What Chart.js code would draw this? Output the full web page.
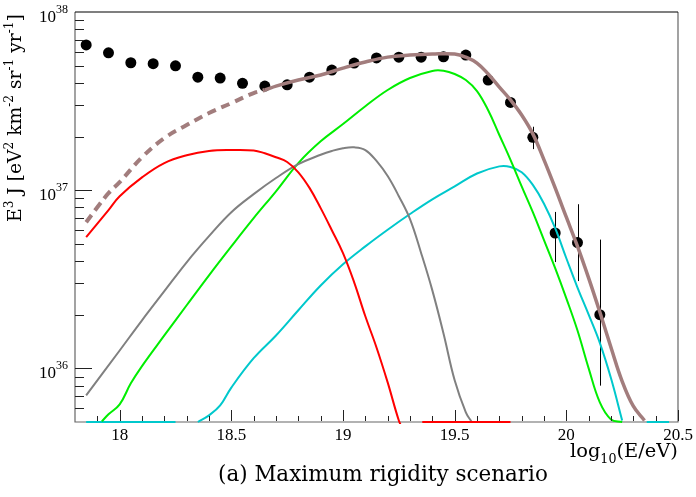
<!DOCTYPE html>
<html>
<head>
<meta charset="utf-8">
<script src="https://cdn.jsdelivr.net/npm/chart.js@4.4.1/dist/chart.umd.min.js"></script>
<style>
  body { margin: 0; background: #fff; }
  canvas { display: block; }
</style>
</head>
<body>
<canvas id="chart" width="696" height="497"></canvas>
<script>
// measured points (log10 E, E^3 J)
const dataE = [17.85, 17.95, 18.05, 18.15, 18.25, 18.35, 18.45, 18.55, 18.65, 18.75, 18.85, 18.95,
               19.05, 19.15, 19.25, 19.35, 19.45, 19.55, 19.65, 19.75, 19.85, 19.95, 20.05, 20.15];
const dataFlux = [6.53e37, 5.9e37, 5.19e37, 5.13e37, 4.99e37, 4.31e37, 4.26e37, 3.98e37, 3.84e37, 3.9e37, 4.31e37, 4.72e37,
                  5.17e37, 5.52e37, 5.58e37, 5.58e37, 5.6e37, 5.73e37, 4.15e37, 3.11e37, 1.98e37, 5.75e36, 5.08e36, 2.0e36];
const errLow  = [null, null, null, null, null, null, null, null, null, null, null, null,
                 null, null, null, null, null, null, null, null, 1.70e37, 3.95e36, 3.09e36, 8.0e35];
const errHigh = [null, null, null, null, null, null, null, null, null, null, null, null,
                 null, null, null, null, null, null, null, null, 2.27e37, 7.55e36, 8.34e36, 5.28e36];

const yFloor = 5e35;

// model components (null = break in line)
const redE = [17.85, 17.95, 18.0, 18.1, 18.2, 18.3, 18.4, 18.5, 18.6, 18.65, 18.7, 18.75, 18.8, 18.85, 18.9, 18.95,
              19.0, 19.05, 19.1, 19.15, 19.2, 19.25, 19.27, 19.3, 19.355, 19.75];
const redFlux = [5.45e36, 7.73e36, 9.25e36, 1.18e37, 1.42e37, 1.57e37, 1.66e37, 1.68e37, 1.67e37, 1.61e37, 1.53e37, 1.44e37,
                 1.26e37, 1.03e37, 7.93e36, 5.96e36, 4.43e36, 3.04e36, 1.96e36, 1.31e36, 8.34e35, 5.1e35, 4.5e35, null, yFloor, yFloor];

const grayE = [17.85, 18.0, 18.1, 18.2, 18.3, 18.4, 18.5, 18.6, 18.7, 18.8, 18.9, 18.95, 19.0, 19.05, 19.1, 19.15, 19.2,
               19.25, 19.3, 19.35, 19.4, 19.45, 19.5, 19.55, 19.575];
const grayFlux = [7.05e35, 1.26e36, 1.86e36, 2.71e36, 3.94e36, 5.52e36, 7.52e36, 9.5e36, 1.17e37, 1.40e37, 1.58e37, 1.66e37,
                  1.72e37, 1.74e37, 1.68e37, 1.46e37, 1.20e37, 9.25e36, 6.88e36, 4.43e36, 2.74e36, 1.57e36, 8.57e35, 5.66e35, 5.03e35];

const greenE = [17.92, 17.95, 18.0, 18.05, 18.1, 18.2, 18.3, 18.4, 18.5, 18.6, 18.7, 18.8, 18.9, 19.0, 19.1, 19.2, 19.3, 19.4, 19.45,
                19.5, 19.55, 19.6, 19.65, 19.7, 19.75, 19.8, 19.85, 19.9, 19.95, 20.0, 20.05, 20.1, 20.15, 20.2, 20.25];
const greenFlux = [5.04e35, 5.52e35, 6.28e35, 8.24e35, 1.03e36, 1.53e36, 2.26e36, 3.33e36, 4.84e36, 6.97e36, 9.86e36, 1.42e37,
                   1.88e37, 2.35e37, 2.96e37, 3.65e37, 4.26e37, 4.67e37, 4.68e37, 4.49e37, 4.15e37, 3.60e37, 2.81e37, 2.04e37,
                   1.48e37, 1.05e37, 7.52e36, 5.24e36, 3.65e36, 2.47e36, 1.63e36, 1.0e36, 6.44e35, 5.17e35, yFloor];

const cyanE = [17.85, 18.25, 18.3, 18.35, 18.4, 18.45, 18.5, 18.6, 18.7, 18.8, 18.9, 19.0, 19.1, 19.2, 19.3, 19.4, 19.5, 19.6,
               19.7, 19.75, 19.8, 19.85, 19.9, 19.95, 20.0, 20.05, 20.1, 20.15, 20.2, 20.25, 20.3, 20.36, 20.46];
const cyanFlux = [yFloor, yFloor, null, 5.0e35, 5.45e35, 6.19e35, 7.8e35, 1.14e36, 1.53e36, 2.12e36, 2.92e36, 3.84e36, 4.84e36,
                  6.0e36, 7.35e36, 8.89e36, 1.05e37, 1.24e37, 1.36e37, 1.35e37, 1.26e37, 1.07e37, 8.4e36, 6.12e36, 4.15e36,
                  2.84e36, 2.0e36, 1.39e36, 8.79e35, 5.1e35, null, yFloor, yFloor];

const totalE = [17.85, 17.9, 17.95, 18.0, 18.1, 18.2, 18.3, 18.4, 18.5, 18.6, 18.65, 18.7, 18.8, 18.9, 19.0, 19.1, 19.2, 19.3,
                19.4, 19.5, 19.55, 19.6, 19.65, 19.7, 19.75, 19.8, 19.85, 19.9, 19.95, 20.0, 20.05, 20.1, 20.15, 20.2, 20.25, 20.3, 20.35];
const totalFlux = [6.61e36, 8.02e36, 9.62e36, 1.11e37, 1.53e37, 1.96e37, 2.32e37, 2.71e37, 3.08e37, 3.51e37, 3.65e37, 3.84e37,
                   4.15e37, 4.43e37, 4.84e37, 5.24e37, 5.58e37, 5.73e37, 5.81e37, 5.81e37, 5.58e37, 5.17e37, 4.49e37, 3.79e37,
                   3.21e37, 2.64e37, 2.07e37, 1.48e37, 1.03e37, 7.05e36, 4.84e36, 3.21e36, 2.07e36, 1.31e36, 8.46e35, 6.13e35, 5.1e35];
const dashedUpTo = 18.65;

const xTicks = [18, 18.5, 19, 19.5, 20, 20.5];
const yDecades = [36, 37, 38];

const tickFont = '"Liberation Serif", serif';
const titleFont = '"DejaVu Serif", serif';

function pts(xs, ys) {
  return xs.map((x, i) => ({ x: x, y: ys[i] }));
}

function curve(xs, ys, color, width) {
  return {
    type: "line",
    data: pts(xs, ys),
    borderColor: color,
    borderWidth: width,
    pointRadius: 0,
    fill: false,
    spanGaps: false,
    tension: 0.4,
    clip: { left: 0, top: 0, right: 0, bottom: 2 }
  };
}

// draw text with super/subscripts, returns width
function richText(ctx, parts, x, y, size, measureOnly) {
  let cx = x;
  parts.forEach(p => {
    const s = p.sup || p.sub ? size * 0.65 : size;
    ctx.font = s + "px " + titleFont;
    let dy = 0;
    if (p.sup) dy = -size * 0.42;
    if (p.sub) dy = size * 0.32;
    if (!measureOnly) ctx.fillText(p.t, cx, y + dy);
    cx += ctx.measureText(p.t).width;
  });
  return cx - x;
}

// font size so the text spans a given width
function fitSize(ctx, parts, width) {
  const w = richText(ctx, parts, 0, 0, 20, true);
  return 20 * width / w;
}

const axesPlugin = {
  id: "rootAxes",
  beforeDatasetsDraw(chart) {
    const { ctx, chartArea: a, scales: { x, y } } = chart;
    ctx.save();
    // frame
    ctx.lineWidth = 1.2;
    ctx.strokeStyle = "#666";
    ctx.beginPath();
    ctx.moveTo(a.left, a.top); ctx.lineTo(a.left, a.bottom); ctx.lineTo(a.right, a.bottom); ctx.lineTo(a.right, a.top);
    ctx.stroke();
    ctx.strokeStyle = "#000";
    ctx.beginPath();
    ctx.moveTo(a.left, a.top); ctx.lineTo(a.right, a.top);
    ctx.stroke();
    // error bars
    ctx.strokeStyle = "#000";
    ctx.lineWidth = 1;
    dataE.forEach((e, i) => {
      if (errLow[i] == null) return;
      const px = Math.round(x.getPixelForValue(e)) + 0.5;
      ctx.beginPath();
      ctx.moveTo(px, y.getPixelForValue(errLow[i]));
      ctx.lineTo(px, y.getPixelForValue(errHigh[i]));
      ctx.stroke();
    });
    ctx.restore();
  },
  afterDraw(chart) {
    const { ctx, chartArea: a, scales: { x, y } } = chart;
    ctx.save();
    // x ticks (inside, pointing up)
    ctx.strokeStyle = "#222";
    ctx.lineWidth = 1;
    for (let k = 179; k <= 205; k++) {
      const v = k / 10;
      const px = Math.round(x.getPixelForValue(v)) + 0.5;
      const major = k % 5 === 0;
      ctx.beginPath();
      ctx.moveTo(px, a.bottom - 1);
      ctx.lineTo(px, a.bottom - (major ? 12 : 6));
      ctx.stroke();
    }
    // y ticks (inside, pointing right)
    for (let d = 35; d <= 37; d++) {
      for (let m = 1; m <= 9; m++) {
        const v = m * Math.pow(10, d);
        if (v < y.min || v > y.max) continue;
        const py = Math.round(y.getPixelForValue(v)) + 0.5;
        ctx.beginPath();
        ctx.moveTo(a.left, py);
        ctx.lineTo(a.left + (m === 1 ? 17 : 9), py);
        ctx.stroke();
      }
    }

    // x tick labels
    ctx.fillStyle = "#000";
    ctx.textBaseline = "alphabetic";
    ctx.textAlign = "center";
    ctx.font = "17px " + tickFont;
    xTicks.forEach(t => {
      ctx.fillText(String(t), x.getPixelForValue(t), 440);
    });

    // y tick labels 10^n
    ctx.textAlign = "left";
    yDecades.forEach(n => {
      const py = y.getPixelForValue(Math.pow(10, n));
      ctx.font = "17px " + tickFont;
      const w10 = ctx.measureText("10").width;
      ctx.font = "12px " + tickFont;
      const wn = ctx.measureText(String(n)).width;
      const x0 = 68 - wn - w10;
      ctx.font = "17px " + tickFont;
      ctx.fillText("10", x0, py + 10);
      ctx.font = "12px " + tickFont;
      ctx.fillText(String(n), x0 + w10, py + 1);
    });

    // y title
    const yParts = [{ t: "E" }, { t: "3", sup: true }, { t: " J [eV" }, { t: "2", sup: true }, { t: " km" },
                    { t: "-2", sup: true }, { t: " sr" }, { t: "-1", sup: true }, { t: " yr" }, { t: "-1", sup: true }, { t: "]" }];
    const ys = fitSize(ctx, yParts, 208);
    ctx.save();
    ctx.translate(21, 222);
    ctx.rotate(-Math.PI / 2);
    richText(ctx, yParts, 0, 0, ys, false);
    ctx.restore();

    // x title
    const xParts = [{ t: "log" }, { t: "10", sub: true }, { t: "(E/eV)" }];
    const xs = fitSize(ctx, xParts, 108);
    richText(ctx, xParts, a.right - 108, 457, xs, false);

    // caption
    const cParts = [{ t: "(a) Maximum rigidity scenario" }];
    const cs = fitSize(ctx, cParts, 330);
    richText(ctx, cParts, 218, 481, cs, false);
    ctx.restore();
  }
};

const ctx = document.getElementById("chart").getContext("2d");

const totalSet = curve(totalE, totalFlux, "#a27d7d", 3.5);
totalSet.segment = {
  borderDash: c => (c.p1.parsed.x <= dashedUpTo + 1e-6 ? [9, 6] : undefined),
  borderWidth: c => (c.p1.parsed.x <= dashedUpTo + 1e-6 ? 4 : 3.5)
};

new Chart(ctx, {
  type: "line",
  data: {
    datasets: [
      curve(redE, redFlux, "#ff0000", 2),
      curve(grayE, grayFlux, "#808080", 2),
      curve(greenE, greenFlux, "#00ee00", 2),
      curve(cyanE, cyanFlux, "#00c8cc", 2),
      totalSet,
      {
        type: "line",
        data: pts(dataE, dataFlux),
        showLine: false,
        pointRadius: 5.5,
        pointBackgroundColor: "#000",
        pointBorderColor: "#000",
        pointBorderWidth: 0
      }
    ]
  },
  options: {
    responsive: false,
    animation: false,
    events: [],
    layout: { padding: { left: 75, top: 12, right: 18, bottom: 75 } },
    plugins: { legend: { display: false }, tooltip: { enabled: false } },
    scales: {
      x: { type: "linear", min: 17.8, max: 20.5, display: false },
      y: { type: "logarithmic", min: 5e35, max: 1e38, display: false }
    }
  },
  plugins: [axesPlugin]
});
</script>
</body>
</html>
